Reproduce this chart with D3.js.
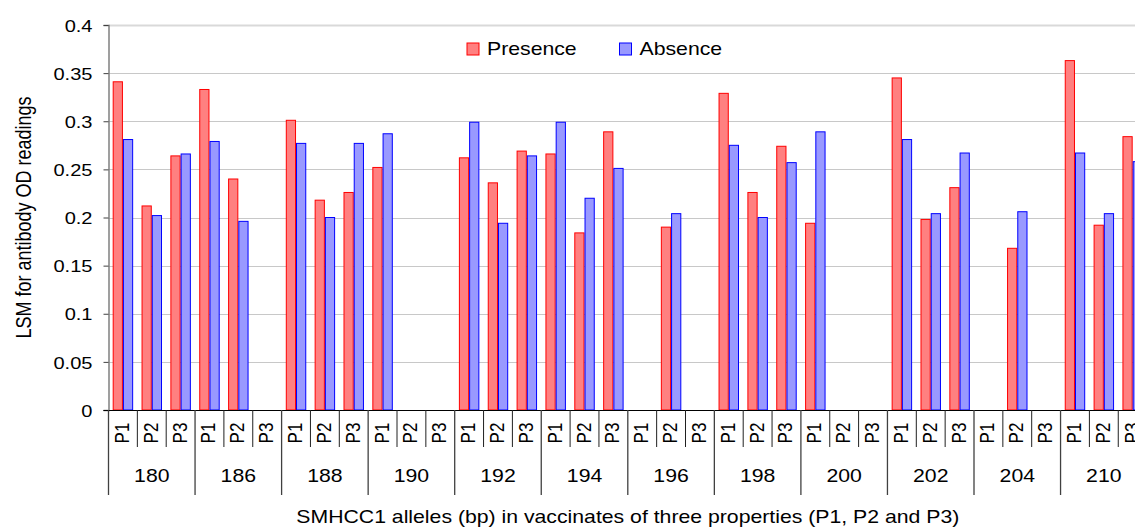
<!DOCTYPE html>
<html><head><meta charset="utf-8">
<script src="https://cdn.jsdelivr.net/npm/d3@7"></script>
<style>
body{margin:0;background:#fff;overflow:hidden}
svg{display:block}
text{font-family:"Liberation Sans",Arial,sans-serif;fill:#000}
</style>
</head><body><svg id="c" width="1135" height="530"></svg>
<script>
// ---- data ----
const alleles = ["180","186","188","190","192","194","196","198","200","202","204","210"];
const properties = ["P1","P2","P3"];
const presence = [0.341,0.212,0.264, 0.333,0.240,null, 0.301,0.218,0.226, 0.252,null,null,
                  0.262,0.236,0.269, 0.266,0.184,0.289, null,0.190,null, 0.329,0.226,0.274,
                  0.194,null,null, 0.345,0.198,0.231, null,0.168,null, 0.363,0.192,0.284];
const absence  = [0.281,0.202,0.266, 0.279,0.196,null, 0.277,0.200,0.277, 0.287,null,null,
                  0.299,0.194,0.264, 0.299,0.220,0.251, null,0.204,null, 0.275,0.200,0.257,
                  0.289,null,null, 0.281,0.204,0.267, null,0.206,null, 0.267,0.204,0.258];
const seriesNames = ["Presence","Absence"];
const yTicks = [0,0.05,0.1,0.15,0.2,0.25,0.3,0.35,0.4];
const yTitle = "LSM for antibody OD readings";
const xTitle = "SMHCC1 alleles (bp) in vaccinates of three properties (P1, P2 and P3)";

(function(){
// ---- layout ----
const SX = 1.18;              // horizontal stretch of text seen in the reference
const pLeft = 108.5, pTop = 25, pBottom = 410, catW = 28.85;
const cats = [];
alleles.forEach(a => properties.forEach(p => cats.push(a + "|" + p)));
const pRight = pLeft + cats.length * catW;

const svg = d3.select("#c");
const x0 = d3.scaleBand().domain(cats).range([pLeft, pRight]).paddingInner(0).paddingOuter(0);
const x1 = d3.scaleBand().domain(seriesNames).range([0, x0.bandwidth()]).paddingInner(0).paddingOuter(0.41);
const y = d3.scaleLinear().domain([0, 0.4]).range([pBottom, pTop]);

const fills = {Presence: "#ff8080", Absence: "#9999ff"};
const strokes = {Presence: "#ff0000", Absence: "#0000ff"};

// gridlines
svg.append("g").selectAll("line").data(yTicks.filter(d => d > 0)).join("line")
  .attr("x1", pLeft).attr("x2", 1135)
  .attr("y1", d => Math.round(y(d)) + 0.5).attr("y2", d => Math.round(y(d)) + 0.5)
  .attr("stroke", d => d === 0.4 ? "#d9d9d9" : "#c8c8c8")
  .attr("stroke-width", d => d === 0.4 ? 2 : 1);

// bars
const rows = [];
cats.forEach((c, i) => {
  if (presence[i] != null) rows.push({c, s: "Presence", v: presence[i]});
  if (absence[i] != null) rows.push({c, s: "Absence", v: absence[i]});
});
svg.append("g").selectAll("rect").data(rows).join("rect")
  .attr("x", d => x0(d.c) + x1(d.s) + 0.5)
  .attr("y", d => y(d.v))
  .attr("width", x1.bandwidth() - 1)
  .attr("height", d => y(0) - y(d.v))
  .attr("fill", d => fills[d.s])
  .attr("stroke", d => strokes[d.s])
  .attr("stroke-width", 1);

// y axis
const yAxis = d3.axisLeft(y).tickValues(yTicks).tickSize(5).tickPadding(0)
  .tickFormat(d => String(+d.toFixed(2)));
const gy = svg.append("g").attr("transform", `translate(${pLeft},0)`).call(yAxis);
gy.select(".domain").attr("stroke", "#808080").attr("stroke-width", 1.5);
gy.selectAll(".tick line").attr("stroke", "#404040");
gy.selectAll(".tick text").remove();
gy.selectAll(".tick").append("text")
  .attr("transform", `translate(-16,0) scale(${SX},1)`)
  .attr("text-anchor", "end").attr("dy", "0.36em")
  .style("font-size", "17px").text(d => String(+d.toFixed(2)));

// x axis line
svg.append("line").attr("x1", pLeft - 5).attr("x2", 1135)
  .attr("y1", pBottom + 0.5).attr("y2", pBottom + 0.5).attr("stroke", "#000").attr("stroke-width", 1.2);

// category separators
const sep = svg.append("g");
cats.forEach((c, i) => {
  const xx = x0(c);
  const isGroup = i % 3 === 0;
  sep.append("line").attr("x1", xx).attr("x2", xx).attr("y1", pBottom)
    .attr("y2", isGroup ? 495 : 447)
    .attr("stroke", isGroup ? "#404040" : "#202020").attr("stroke-width", isGroup ? 1.3 : 1);
});
// P labels
svg.append("g").selectAll("text").data(cats).join("text")
  .attr("transform", d => `translate(${x0(d) + x0.bandwidth()/2 + 6},433) scale(${SX},1) rotate(-90)`)
  .attr("text-anchor", "middle").style("font-size", "17px")
  .text(d => d.split("|")[1]);
// group labels
svg.append("g").selectAll("text").data(alleles).join("text")
  .attr("transform", d => `translate(${x0(d + "|P2") + x0.bandwidth()/2},482) scale(${SX},1)`)
  .attr("text-anchor", "middle").style("font-size", "18px").text(d => d);

// titles
svg.append("text").attr("transform", `translate(${(pLeft + pRight)/2},523) scale(${SX},1)`)
  .attr("text-anchor", "middle").style("font-size", "18px").text(xTitle);
svg.append("text").attr("transform", `translate(31,${(pTop + pBottom)/2}) scale(${SX},1) rotate(-90)`)
  .attr("text-anchor", "middle").style("font-size", "18px").text(yTitle);

// legend
const lg = svg.append("g");
const legX = [467, 619.5];
seriesNames.forEach((s, i) => {
  lg.append("rect").attr("x", legX[i]).attr("y", 43).attr("width", 12).attr("height", 12)
    .attr("fill", fills[s]).attr("stroke", strokes[s]).attr("stroke-width", 1);
  lg.append("text").attr("transform", `translate(${legX[i] + 20},55) scale(${SX},1)`)
    .style("font-size", "18px").text(s);
});
})();
</script>
</body></html>
